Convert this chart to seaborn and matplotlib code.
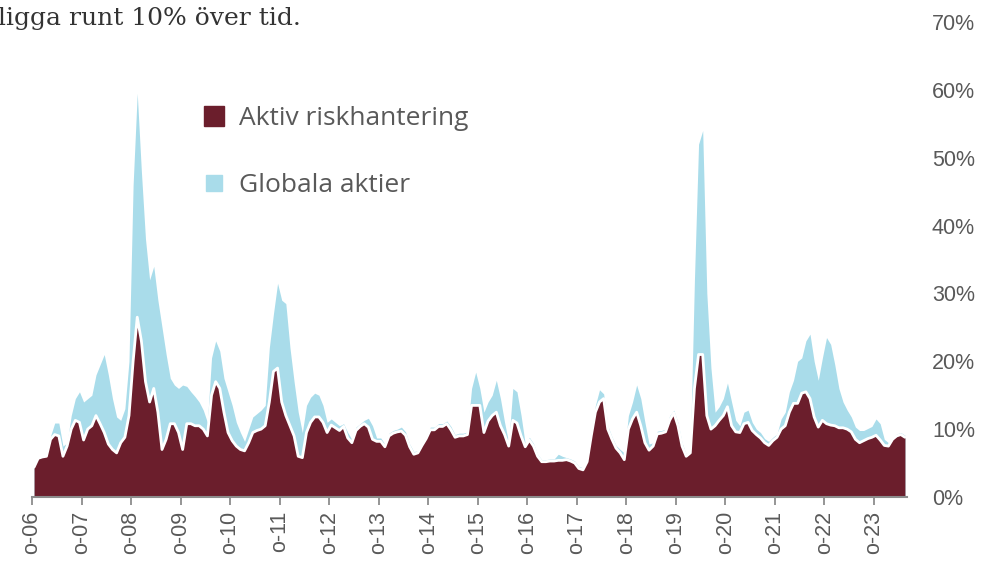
import numpy as np
import pandas as pd
import seaborn as sns
import matplotlib
matplotlib.use("Agg")
import matplotlib.pyplot as plt
from matplotlib.lines import Line2D

# ---- data (monthly, Oct 2006 .. May 2024), values in % ----
aktiv = [4.4, 5.7, 5.9, 6.0, 8.5, 9.2, 9.0, 6.0, 7.5, 10.0, 11.3, 11.0,
         8.4, 10.0, 10.5, 12.0, 10.8, 9.5, 7.8, 7.0, 6.5, 8.0, 8.8, 12.0,
         20.0, 26.5, 23.0, 17.0, 14.0, 16.0, 12.5, 7.0, 8.5, 10.8, 10.8, 9.5,
         7.0, 10.8, 10.8, 10.5, 10.5, 10.0, 9.0, 15.0, 17.0, 16.0, 12.5, 9.5,
         8.3, 7.5, 7.0, 6.8, 8.0, 9.5, 9.8, 10.0, 10.5, 14.0, 18.5, 19.0,
         14.0, 12.0, 10.5, 9.0, 6.0, 5.8, 9.5, 11.0, 11.8, 11.8, 11.0, 9.5,
         10.6, 10.2, 9.8, 10.4, 8.7, 8.0, 9.8, 10.4, 10.8, 10.3, 8.5, 8.2,
         8.2, 7.4, 9.0, 9.4, 9.6, 9.7, 9.1, 7.4, 6.3, 6.5, 7.6, 8.6,
         9.9, 9.9, 10.4, 10.4, 10.8, 9.9, 8.8, 9.0, 9.0, 9.2, 13.5, 13.5,
         13.5, 9.5, 11.2, 12.0, 12.5, 10.5, 9.2, 7.5, 11.3, 10.9, 9.0, 7.4,
         8.4, 7.5, 6.0, 5.2, 5.2, 5.3, 5.3, 5.4, 5.4, 5.5, 5.3, 5.0,
         4.2, 4.0, 5.2, 9.0, 12.5, 14.0, 14.5, 10.0, 8.5, 7.2, 6.5, 5.5,
         10.0, 11.5, 12.5, 10.5, 8.0, 6.9, 7.5, 9.3, 9.4, 9.6, 11.3, 12.4,
         10.5, 7.5, 6.0, 6.5, 16.0, 21.0, 21.0, 12.0, 10.0, 10.5, 11.3, 12.0,
         13.3, 10.5, 9.6, 9.5, 10.8, 11.0, 9.8, 9.2, 8.7, 8.0, 7.6, 8.3,
         8.8, 10.0, 10.5, 12.5, 13.8, 13.8, 15.3, 15.5, 14.5, 11.8, 10.3, 11.3,
         10.8, 10.6, 10.5, 10.2, 10.2, 10.0, 9.6, 8.5, 8.0, 8.3, 8.6, 8.8,
         9.1, 8.4, 7.6, 7.5, 8.5, 9.0, 9.2, 8.8]

globala = [4.4, 5.7, 5.9, 6.0, 9.0, 10.9, 10.9, 7.5, 8.0, 12.0, 14.5, 15.5,
           14.0, 14.5, 15.0, 18.0, 19.5, 21.0, 18.0, 14.5, 11.8, 11.3, 13.0, 20.0,
           46.0, 59.5, 48.0, 38.0, 32.0, 34.0, 29.0, 25.0, 21.0, 17.5, 16.5, 16.0,
           16.5, 16.3, 15.5, 14.8, 14.0, 12.8, 11.0, 20.5, 23.0, 21.5, 17.5, 15.5,
           13.5, 11.0, 9.5, 8.2, 10.0, 11.8, 12.3, 12.8, 13.5, 22.0, 27.0, 31.5,
           29.0, 28.5, 22.0, 17.0, 12.5, 9.5, 13.5, 14.7, 15.3, 15.0, 13.5, 11.0,
           11.5, 11.0, 10.5, 10.8, 9.5, 8.5, 10.3, 10.8, 11.3, 11.6, 10.5, 8.7,
           8.7, 7.8, 9.4, 9.8, 10.0, 10.3, 9.6, 7.8, 6.7, 6.8, 8.0, 9.0,
           10.3, 10.3, 10.8, 10.8, 11.2, 10.4, 9.2, 9.4, 9.4, 9.6, 16.0, 18.4,
           16.0, 12.5, 14.0, 15.0, 17.2, 14.5, 11.0, 8.0, 16.0, 15.5, 12.0, 7.8,
           8.8, 7.9, 6.3, 5.5, 5.5, 5.6, 5.6, 6.3, 6.0, 5.8, 5.6, 5.3,
           4.5, 4.3, 5.5, 9.5, 13.5, 15.8, 15.2, 10.5, 8.9, 7.6, 7.0, 6.5,
           12.0, 14.0, 16.5, 14.5, 11.0, 7.8, 8.0, 9.7, 9.8, 10.0, 12.0, 12.8,
           11.0, 8.0, 6.3, 6.8, 32.0, 52.0, 54.0, 30.0, 19.0, 12.5, 13.3, 14.5,
           16.8, 14.0, 11.3, 10.5, 12.5, 12.8, 11.0, 10.0, 9.5, 8.6, 8.2, 8.8,
           9.3, 11.5, 12.5, 15.5, 17.2, 20.0, 20.5, 23.0, 24.0, 20.0, 17.2, 20.5,
           23.5, 22.5, 19.5, 16.0, 14.0, 12.8, 11.8, 10.3, 9.8, 9.8, 10.1, 10.4,
           11.5, 10.8, 8.5, 8.0, 8.8, 9.3, 9.5, 9.1]

tick_labels = ["o-06", "o-07", "o-08", "o-09", "o-10", "o-11", "o-12", "o-13",
               "o-14", "o-15", "o-16", "o-17", "o-18", "o-19", "o-20", "o-21",
               "o-22", "o-23"]
y_ticks = [0, 10, 20, 30, 40, 50, 60, 70]
series_names = ["Aktiv riskhantering", "Globala aktier"]

RED = "#6B1E2C"
BLUE = "#A9DCEA"
GREY = "#595959"

df = pd.DataFrame({"idx": np.arange(len(aktiv)), "aktiv": aktiv, "globala": globala})

sns.set_theme(style="white")
plt.rcParams["font.family"] = ["Liberation Sans", "DejaVu Sans"]

fig = plt.figure(figsize=(10.02, 5.65), dpi=100)
W, H = 1002, 565
ax = fig.add_axes([32 / W, (H - 497) / H, (907 - 32) / W, (497 - 22) / H])

ax.fill_between(df["idx"], 0, df["globala"], color=BLUE, lw=0, zorder=1)
ax.fill_between(df["idx"], 0, df["aktiv"], color=RED, lw=0, zorder=2)
sns.lineplot(data=df, x="idx", y="aktiv", color="white", lw=2.0, ax=ax, zorder=3)

ax.set_xlim(-0.5, len(aktiv) - 0.5)
ax.set_ylim(0, 70)
ax.set_xlabel("")
ax.set_ylabel("")

# x axis
ax.set_xticks([-0.5 + 12 * k for k in range(len(tick_labels))])
ax.set_xticklabels(tick_labels, rotation=90, color=GREY, fontsize=15.5)
ax.tick_params(axis="x", direction="out", length=6, width=1.3, color="#8C8C8C",
               pad=4, bottom=True)

# y axis on right
ax.yaxis.tick_right()
ax.set_yticks(y_ticks)
ax.set_yticklabels([f"{v}%" for v in y_ticks], color=GREY, fontsize=15.5)
ax.tick_params(axis="y", length=0, pad=18)

for s in ["top", "right", "left"]:
    ax.spines[s].set_visible(False)
ax.spines["bottom"].set_color("#8C8C8C")
ax.spines["bottom"].set_linewidth(1.5)
ax.spines["bottom"].set_zorder(4)

handles = [Line2D([], [], marker="s", ls="", markersize=14, color=RED),
           Line2D([], [], marker="s", ls="", markersize=11, color=BLUE)]
leg = ax.legend(handles, series_names, loc="upper left",
                bbox_to_anchor=(177 / W, (H - 82) / H), bbox_transform=fig.transFigure,
                frameon=False, labelspacing=1.62, handletextpad=0.45,
                handlelength=1.0, prop={"family": ["Open Sans", "DejaVu Sans"], "size": 19})
for t in leg.get_texts():
    t.set_color(GREY)

fig.text(-2 / W, (H - 25) / H, "ligga runt 10% över tid.", fontsize=18,
         family=["DejaVu Serif"], color="#333333", ha="left", va="baseline")

fig.savefig("out.png", dpi=100)
